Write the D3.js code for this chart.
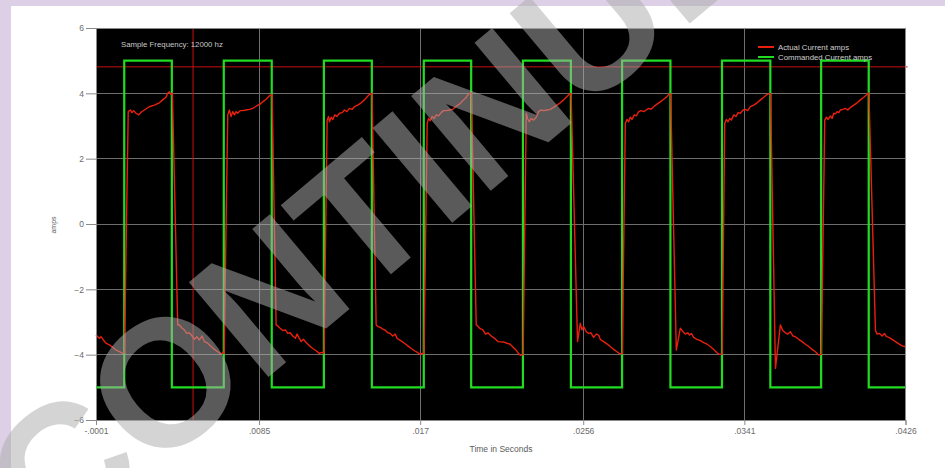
<!DOCTYPE html>
<html><head><meta charset="utf-8">
<script src="https://cdn.jsdelivr.net/npm/d3@7"></script>
<style>html,body{margin:0;padding:0;background:#dccfe6;overflow:hidden} svg{display:block}</style>
</head><body><svg id="c" width="945" height="468"></svg>
<script>
// ---- data (time in milliseconds, current in amps) ----
const yTickValues = [-6, -4, -2, 0, 2, 4, 6];
const xTickValuesMs = [-0.1, 8.5, 17, 25.6, 34.1, 42.6];
const xTickLabels = ["-.0001", ".0085", ".017", ".0256", ".0341", ".0426"];
const seriesNames = ["Actual Current amps", "Commanded Current amps"];
const sampleFrequencyLabel = "Sample Frequency: 12000 hz";
const xTitle = "Time in Seconds";
const yTitle = "amps";
const cursorTimeMs = 5.02;
const cursorAmps = 4.81;
const watermarkText = "CONTINUE";

const commandedTimeMs = [-0.1, 1.39, 3.90, 6.64, 9.17, 11.92, 14.45, 17.19, 19.69, 22.42, 24.95, 27.65, 30.20, 32.92, 35.47, 38.15, 40.66, 42.6];
const commandedAmps   = [-5, 5, -5, 5, -5, 5, -5, 5, -5, 5, -5, 5, -5, 5, -5, 5, -5, -5];

const actualCurrent = [
 [-0.1,-3.40],[0.076,-3.50],[0.164,-3.45],[0.287,-3.55],[0.428,-3.65],[0.604,-3.70],[0.780,-3.77],[0.956,-3.86],[1.132,-3.91],[1.307,-3.96],[1.40,-3.94],
 [1.60,3.44],[1.712,3.49],[1.800,3.41],[1.888,3.47],[2.011,3.39],[2.152,3.34],[2.275,3.42],[2.451,3.49],[2.715,3.59],[2.979,3.64],[3.243,3.71],[3.419,3.80],[3.594,3.88],[3.682,4.00],[3.770,4.05],[3.841,3.97],[3.93,4.00],
 [4.21,-3.09],[4.298,-3.09],[4.439,-3.19],[4.562,-3.24],[4.685,-3.35],[4.826,-3.33],[4.967,-3.43],[5.090,-3.53],[5.213,-3.45],[5.354,-3.55],[5.495,-3.43],[5.618,-3.60],[5.794,-3.65],[5.970,-3.75],[6.146,-3.84],[6.322,-3.91],[6.497,-3.98],[6.585,-3.94],[6.66,-3.96],
 [6.849,3.34],[6.937,3.49],[7.025,3.29],[7.113,3.44],[7.201,3.34],[7.289,3.44],[7.377,3.39],[7.500,3.47],[7.641,3.47],[7.817,3.49],[7.993,3.51],[8.169,3.54],[8.309,3.59],[8.433,3.64],[8.556,3.67],[8.697,3.74],[8.872,3.82],[9.013,3.90],[9.083,3.94],[9.19,3.96],
 [9.40,-3.09],[9.488,-3.12],[9.611,-3.19],[9.752,-3.26],[9.893,-3.24],[10.016,-3.35],[10.139,-3.33],[10.280,-3.43],[10.420,-3.50],[10.508,-3.37],[10.596,-3.47],[10.720,-3.60],[10.843,-3.53],[10.984,-3.63],[11.160,-3.73],[11.335,-3.81],[11.511,-3.88],[11.687,-3.96],[11.793,-3.93],[11.93,-3.95],
 [12.092,3.18],[12.162,3.29],[12.215,3.13],[12.303,3.27],[12.391,3.20],[12.497,3.34],[12.602,3.29],[12.743,3.39],[12.884,3.41],[13.007,3.49],[13.130,3.44],[13.271,3.54],[13.411,3.51],[13.534,3.59],[13.710,3.64],[13.886,3.71],[14.062,3.80],[14.185,3.88],[14.290,3.95],[14.361,3.98],[14.46,4.00],
 [14.678,-3.09],[14.766,-3.14],[14.889,-3.16],[15.030,-3.22],[15.171,-3.26],[15.294,-3.33],[15.417,-3.35],[15.558,-3.43],[15.681,-3.37],[15.786,-3.50],[15.910,-3.55],[16.050,-3.60],[16.173,-3.65],[16.349,-3.73],[16.525,-3.81],[16.701,-3.88],[16.877,-3.94],[17.000,-3.99],[17.088,-3.96],[17.20,-3.97],
 [17.370,3.08],[17.440,3.23],[17.528,3.16],[17.634,3.29],[17.739,3.23],[17.845,3.34],[17.968,3.31],[18.109,3.41],[18.232,3.47],[18.373,3.47],[18.548,3.49],[18.724,3.51],[18.865,3.59],[18.988,3.64],[19.111,3.69],[19.252,3.78],[19.393,3.85],[19.516,3.95],[19.604,4.00],[19.70,4.01],
 [19.956,-3.09],[19.991,-3.09],[20.132,-3.19],[20.308,-3.24],[20.449,-3.37],[20.572,-3.33],[20.748,-3.43],[20.923,-3.50],[21.099,-3.60],[21.399,-3.61],[21.575,-3.65],[21.751,-3.68],[21.892,-3.77],[22.032,-3.84],[22.155,-3.94],[22.279,-4.02],[22.43,-4.00],
 [22.595,3.39],[22.666,3.23],[22.754,3.13],[22.859,3.23],[22.982,3.18],[23.123,3.27],[23.246,3.44],[23.369,3.49],[23.510,3.47],[23.686,3.49],[23.862,3.51],[24.038,3.57],[24.214,3.64],[24.390,3.71],[24.566,3.80],[24.706,3.88],[24.829,3.95],[24.882,3.98],[24.96,3.99],
 [25.30,-3.60],[25.445,-3.04],[25.533,-3.24],[25.621,-3.14],[25.762,-3.30],[25.885,-3.35],[26.008,-3.33],[26.149,-3.47],[26.290,-3.37],[26.413,-3.40],[26.501,-3.53],[26.677,-3.60],[26.853,-3.67],[27.029,-3.75],[27.205,-3.84],[27.381,-3.91],[27.504,-3.96],[27.66,-3.97],
 [27.820,3.08],[27.908,3.20],[27.996,3.13],[28.084,3.27],[28.172,3.20],[28.295,3.34],[28.401,3.31],[28.524,3.44],[28.647,3.47],[28.788,3.44],[28.929,3.49],[29.052,3.54],[29.175,3.51],[29.316,3.59],[29.492,3.67],[29.668,3.74],[29.844,3.82],[30.020,3.90],[30.125,3.97],[30.21,3.98],
 [30.51,-3.86],[30.723,-3.19],[30.864,-3.30],[30.987,-3.37],[31.110,-3.33],[31.216,-3.40],[31.304,-3.35],[31.427,-3.47],[31.603,-3.53],[31.779,-3.57],[31.955,-3.63],[32.131,-3.68],[32.307,-3.75],[32.483,-3.84],[32.658,-3.94],[32.782,-3.99],[32.93,-3.98],
 [33.063,3.08],[33.151,3.20],[33.239,3.13],[33.327,3.23],[33.415,3.18],[33.538,3.34],[33.661,3.29],[33.767,3.41],[33.890,3.39],[34.031,3.49],[34.154,3.51],[34.277,3.47],[34.418,3.59],[34.594,3.64],[34.770,3.71],[34.946,3.80],[35.121,3.88],[35.262,3.95],[35.368,3.98],[35.48,3.99],
 [35.74,-4.42],[36.001,-3.09],[36.124,-3.26],[36.265,-3.33],[36.388,-3.37],[36.529,-3.30],[36.669,-3.43],[36.793,-3.45],[36.968,-3.53],[37.144,-3.60],[37.320,-3.68],[37.496,-3.75],[37.672,-3.84],[37.848,-3.91],[38.024,-4.01],[38.16,-3.99],
 [38.341,3.18],[38.429,3.27],[38.517,3.20],[38.640,3.31],[38.728,3.23],[38.816,3.39],[38.904,3.37],[38.992,3.44],[39.080,3.41],[39.168,3.49],[39.291,3.51],[39.432,3.54],[39.555,3.49],[39.696,3.57],[39.872,3.64],[40.048,3.71],[40.223,3.80],[40.399,3.88],[40.540,3.95],[40.610,4.00],[40.67,4.01],
 [41.015,-3.26],[41.103,-3.37],[41.226,-3.35],[41.367,-3.43],[41.490,-3.35],[41.596,-3.45],[41.719,-3.47],[41.895,-3.53],[42.071,-3.60],[42.247,-3.67],[42.423,-3.73],[42.546,-3.75],[42.6,-3.76]
];

// ---- drawing ----
const W = 945, H = 468;
const plot = {left: 96, right: 905.5, top: 28, bottom: 420};
const FONT = "'Liberation Sans', Arial, sans-serif";
const svg = d3.select("#c");

svg.append("rect").attr("x", 11).attr("y", 6).attr("width", W - 11).attr("height", H - 6).attr("fill", "#ffffff");

const x = d3.scaleLinear().domain([xTickValuesMs[0], xTickValuesMs[xTickValuesMs.length - 1]]).range([plot.left, plot.right]);
const y = d3.scaleLinear().domain([yTickValues[0], yTickValues[yTickValues.length - 1]]).range([plot.bottom, plot.top]);

svg.append("rect").attr("x", plot.left).attr("y", plot.top)
  .attr("width", plot.right - plot.left).attr("height", plot.bottom - plot.top).attr("fill", "#000");

// grid
const grid = svg.append("g").attr("stroke", "#6e6e6e").attr("stroke-width", 1).attr("shape-rendering", "crispEdges");
grid.selectAll("line.h").data(yTickValues.slice(1, -1)).join("line").attr("class", "h")
  .attr("x1", plot.left).attr("x2", plot.right).attr("y1", d => y(d)).attr("y2", d => y(d));
grid.selectAll("line.v").data(xTickValuesMs.slice(1, -1)).join("line").attr("class", "v")
  .attr("y1", plot.top).attr("y2", plot.bottom).attr("x1", d => x(d)).attr("x2", d => x(d));

// cursor lines
svg.append("line").attr("x1", plot.left).attr("x2", plot.right + 2).attr("y1", y(cursorAmps)).attr("y2", y(cursorAmps))
  .attr("stroke", "#c81010").attr("stroke-width", 1);
svg.append("line").attr("x1", x(cursorTimeMs)).attr("x2", x(cursorTimeMs)).attr("y1", plot.top).attr("y2", plot.bottom)
  .attr("stroke", "#c81010").attr("stroke-width", 1);

// series
const commanded = commandedTimeMs.map((t, i) => [t, commandedAmps[i]]);
svg.append("path").datum(commanded)
  .attr("d", d3.line().x(d => x(d[0])).y(d => y(d[1])).curve(d3.curveStepAfter))
  .attr("fill", "none").attr("stroke", "#22dc22").attr("stroke-width", 2.2);
svg.append("path").datum(actualCurrent).attr("d", d3.line().x(d => x(d[0])).y(d => y(d[1])))
  .attr("fill", "none").attr("stroke", "#e8200e").attr("stroke-width", 1.4).attr("stroke-linejoin", "round");

// border
svg.append("rect").attr("x", plot.left).attr("y", plot.top)
  .attr("width", plot.right - plot.left).attr("height", plot.bottom - plot.top)
  .attr("fill", "none").attr("stroke", "#8a8a8a").attr("stroke-width", 1).attr("shape-rendering", "crispEdges");

// axes
const yAxis = svg.append("g").attr("transform", `translate(${plot.left},0)`)
  .call(d3.axisLeft(y).tickValues(yTickValues).tickSize(10).tickPadding(2).tickFormat(d3.format("d")));
const xAxis = svg.append("g").attr("transform", `translate(0,${plot.bottom})`)
  .call(d3.axisBottom(x).tickValues(xTickValuesMs).tickSize(5).tickPadding(3).tickFormat((d, i) => xTickLabels[i]));
[yAxis, xAxis].forEach(g => {
  g.select(".domain").attr("stroke", "#8a8a8a");
  g.selectAll(".tick line").attr("stroke", "#8a8a8a");
  g.selectAll(".tick text").attr("fill", "#6a6a6a").attr("font-family", FONT).attr("font-size", 8.5);
});

// titles
svg.append("text").attr("x", 501).attr("y", 452).attr("text-anchor", "middle")
  .attr("font-family", FONT).attr("font-size", 8.5).attr("fill", "#5a5a5a").text(xTitle);
svg.append("text").attr("transform", "translate(56,225) rotate(-90)").attr("text-anchor", "middle")
  .attr("font-family", FONT).attr("font-size", 7).attr("fill", "#5a5a5a").text(yTitle);
svg.append("text").attr("x", 121).attr("y", 47)
  .attr("font-family", FONT).attr("font-size", 7.8).attr("fill", "#c8c8c8").text(sampleFrequencyLabel);

// legend
const legendColors = ["#e8200e", "#22dc22"];
const lg = svg.append("g").attr("transform", "translate(758,47)");
seriesNames.forEach((name, i) => {
  lg.append("line").attr("x1", 0).attr("x2", 16).attr("y1", i * 10).attr("y2", i * 10)
    .attr("stroke", legendColors[i]).attr("stroke-width", 2);
  lg.append("text").attr("x", 20).attr("y", i * 10 + 3).attr("font-family", FONT).attr("font-size", 7.8)
    .attr("fill", "#d0d0d0").text(name);
});

// watermark
svg.append("text").attr("transform", "translate(372,208) rotate(-40)")
  .attr("text-anchor", "middle").attr("dy", "0.35em")
  .attr("font-family", FONT).attr("font-weight", "bold").attr("font-size", 180)
  .attr("fill", "rgb(173,173,173)").attr("fill-opacity", 0.52).text(watermarkText);
</script>
</body></html>
